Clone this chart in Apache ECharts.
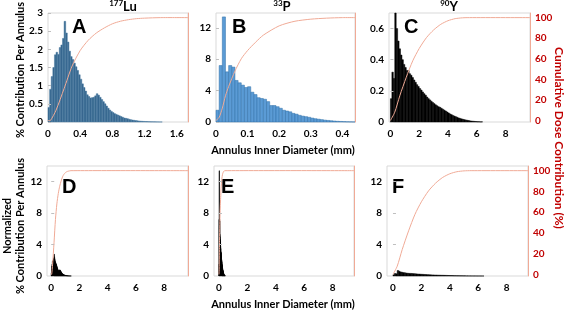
<!DOCTYPE html>
<html>
<head>
<meta charset="utf-8">
<script src="https://cdn.jsdelivr.net/npm/echarts@6/dist/echarts.min.js"></script>
<style>
  html, body { margin: 0; padding: 0; background: #fff; }
  #chart { width: 567px; height: 311px; }
</style>
</head>
<body>
<div id="chart"></div>
<script>
// 177Lu: % contribution per annulus, bins of 0.02 mm starting at 0
const luBin = 0.02
const luValues = [0.40, 0.90, 1.25, 1.50, 1.85, 1.92, 1.86, 2.05, 2.12, 2.30,
  2.77, 2.45, 2.20, 1.95, 1.80, 1.72, 1.62, 1.52, 1.42, 1.30,
  1.18, 1.05, 0.95, 0.85, 0.75, 0.70, 0.66, 0.67, 0.68, 0.72,
  0.78, 0.74, 0.68, 0.62, 0.56, 0.50, 0.44, 0.38, 0.33, 0.29,
  0.26, 0.23, 0.21, 0.19, 0.17, 0.15, 0.13, 0.11, 0.10, 0.09,
  0.075, 0.065, 0.055, 0.047, 0.040, 0.034, 0.028, 0.023, 0.019, 0.016,
  0.013, 0.011, 0.009, 0.007, 0.006, 0.005, 0.004, 0.003, 0.002, 0.002, 0.001]

// 33P: bins of 0.01 mm
const pBin = 0.01
const pValues = [1.5, 7.2, 13.4, 6.4, 7.2, 7.0, 5.3, 5.0, 4.7, 4.4,
  4.5, 3.8, 3.5, 3.1, 3.0, 2.9, 2.6, 2.1, 2.1, 1.95,
  1.75, 1.5, 1.4, 1.3, 1.1, 1.0, 0.85, 0.75, 0.68, 0.6,
  0.5, 0.42, 0.36, 0.3, 0.24, 0.2, 0.16, 0.12, 0.09, 0.07,
  0.05, 0.03, 0.02, 0.01]

// 90Y: bins of 0.1 mm
const yBin = 0.1
const yValues = [0.15, 0.32, 0.28, 0.70, 0.60, 0.52, 0.47, 0.43, 0.40, 0.37,
  0.35, 0.33, 0.33, 0.31, 0.30, 0.285, 0.27, 0.255, 0.24, 0.228,
  0.215, 0.205, 0.193, 0.182, 0.172, 0.16, 0.15, 0.142, 0.133, 0.125,
  0.118, 0.11, 0.104, 0.098, 0.094, 0.088, 0.082, 0.076, 0.07, 0.064,
  0.058, 0.052, 0.047, 0.042, 0.038, 0.034, 0.03, 0.026, 0.023, 0.02,
  0.017, 0.015, 0.013, 0.011, 0.009, 0.007, 0.006, 0.005, 0.004, 0.003,
  0.002, 0.002, 0.001, 0.001]

// cumulative dose contribution (%)
const luCumX = [0, 0.03, 0.1, 0.2, 0.3, 0.4, 0.5, 0.6, 0.7, 0.8, 0.9, 1.0, 1.1, 1.2, 1.4, 10]
const luCumY = [0, 0, 10, 31, 53, 68, 78, 85, 90, 94, 96.5, 98, 99, 99.5, 100, 100]
const pCumX = [0, 0.01, 0.02, 0.03, 0.04, 0.06, 0.08, 0.1, 0.125, 0.15, 0.2, 0.25, 0.3, 0.35, 0.4, 10]
const pCumY = [0, 3, 12, 24, 33, 48, 60, 68, 76, 83, 92, 96.5, 98.5, 99.5, 100, 100]
const yCumX = [0, 0.3, 0.65, 1.1, 1.55, 2.0, 2.5, 3.0, 3.5, 4.0, 4.5, 5.0, 5.5, 10]
const yCumY = [0, 8, 24, 42, 58, 70, 80.5, 88, 93.5, 97, 99, 99.8, 100, 100]

// tick labels
const luTicks = [0, 0.4, 0.8, 1.2, 1.6]
const pTicks = [0, 0.1, 0.2, 0.3, 0.4]
const mmTicks = [0, 2, 4, 6, 8]
const luYTicks = [0, 0.5, 1, 1.5, 2, 2.5, 3]
const pYTicks = [0, 4, 8, 12]
const yYTicks = [0, 0.2, 0.4, 0.6]
const normYTicks = [0, 4, 8, 12]
const cumTicks = [0, 20, 40, 60, 80, 100]

const FONT = 'Lato'
const curveColor = '#f0aa96'
const darkRed = '#c00000'

function bins(values, w) {
    return values.map((v, i) => [i * w, (i + 1) * w, v])
}
function pairs(xs, ys) {
    return xs.map((x, i) => [x, ys[i]])
}

function gridBox(left, top, width, height) {
    return {left, top, width, height, show: true, borderColor: '#d9d9d9', borderWidth: 1,
        backgroundColor: 'transparent', outerBoundsMode: 'none'}
}
function xAxis(gi, min, max, ticks) {
    return {
        type: 'value', gridIndex: gi, min, max, zlevel: 1,
        axisLine: {show: false}, axisTick: {show: false}, splitLine: {show: false},
        axisLabel: {customValues: ticks, formatter: v => '' + v, fontFamily: FONT, hideOverlap: false,
            fontWeight: 'bold', fontSize: 10, color: '#000', margin: 7}
    }
}
function leftAxis(gi, max, ticks) {
    return {
        type: 'value', gridIndex: gi, position: 'left', min: 0, max, zlevel: 1,
        axisLine: {show: false}, splitLine: {show: false},
        axisTick: {show: true, inside: true, length: 3, customValues: ticks, lineStyle: {color: '#bfbfbf'}},
        axisLabel: {customValues: ticks, formatter: v => '' + v, fontFamily: FONT, hideOverlap: false,
            fontWeight: 'bold', fontSize: 10, color: '#000', margin: 5}
    }
}
function rightAxis(gi, showLabel) {
    return {
        type: 'value', gridIndex: gi, position: 'right', min: -1.5, max: 104.5, zlevel: 1,
        axisLine: {show: true, lineStyle: {color: curveColor, width: 1}},
        axisTick: {show: false}, splitLine: {show: false},
        axisLabel: {show: showLabel, customValues: cumTicks, fontFamily: FONT, hideOverlap: false,
            fontWeight: 'bold', fontSize: 10, color: darkRed, margin: 5}
    }
}

// one rect per bin, all bins lie inside the axis ranges
function rectRenderer(fill, stroke, lw) {
    return function (params, api) {
        const p0 = api.coord([api.value(0), api.value(2)])
        const p1 = api.coord([api.value(1), 0])
        return {
            type: 'rect',
            shape: {x: p0[0], y: p0[1], width: p1[0] - p0[0], height: p1[1] - p0[1]},
            style: {fill, stroke, lineWidth: lw}
        }
    }
}
function histBars(gi, data, fill, stroke, lw) {
    return {type: 'custom', xAxisIndex: gi, yAxisIndex: gi * 2, clip: false,
        renderItem: rectRenderer(fill, stroke, lw), data}
}

// whole cumulative curve drawn once; the flat 100% tail is stopped at the plot's right edge
function curveRenderer(points) {
    return function (params, api) {
        if (params.dataIndex !== 0) return null
        const cs = params.coordSys
        const right = cs.x + cs.width
        const pts = points.map(p => {
            const c = api.coord(p)
            return [Math.min(c[0], right), c[1]]
        })
        return {
            type: 'polyline',
            shape: {points: pts, smooth: 0.25,
                smoothConstraint: [[cs.x, cs.y], [cs.x + cs.width, cs.y + cs.height]]},
            style: {stroke: curveColor, lineWidth: 1, fill: null}
        }
    }
}
function cumLine(gi, points) {
    return {type: 'custom', xAxisIndex: gi, yAxisIndex: gi * 2 + 1, clip: false, z: 5,
        renderItem: curveRenderer(points), data: points}
}

function panelLetter(text, x, y) {
    return {type: 'text', x, y, style: {text, font: 'bold 20px "Liberation Sans"', fill: '#000'}}
}
function isotope(sup, main, x, y) {
    return {
        type: 'text', x, y,
        style: {
            text: '{s|' + sup + '}{m|' + main + '}', align: 'center', verticalAlign: 'middle',
            rich: {
                s: {fontFamily: FONT, fontWeight: 'bold', fontSize: 8, lineHeight: 15, verticalAlign: 'top', padding: [0, 0, 6, 0]},
                m: {fontFamily: FONT, fontWeight: 'bold', fontSize: 13, lineHeight: 15}
            }
        }
    }
}
function label(text, x, y, rotation, size, color) {
    return {type: 'text', x, y, rotation,
        style: {text, font: 'bold ' + size + 'px ' + FONT, fill: color || '#000',
            align: 'center', verticalAlign: 'middle', lineHeight: 13}}
}

const chart = echarts.init(document.getElementById('chart'))
chart.setOption({
    animation: false,
    grid: [
        gridBox(48, 13, 140, 109),
        gridBox(216, 13, 139, 109),
        gridBox(389, 13, 141, 109),
        gridBox(47, 166, 141, 110),
        gridBox(214, 166, 140, 110),
        gridBox(387, 166, 141, 110)
    ],
    xAxis: [
        xAxis(0, 0, 1.74, luTicks),
        xAxis(1, 0, 0.44, pTicks),
        xAxis(2, -0.1, 9.7, mmTicks),
        xAxis(3, -0.3, 9.7, mmTicks),
        xAxis(4, -0.35, 9.5, mmTicks),
        xAxis(5, -0.42, 9.5, mmTicks)
    ],
    yAxis: [
        leftAxis(0, 3, luYTicks), rightAxis(0, false),
        leftAxis(1, 13.9, pYTicks), rightAxis(1, false),
        leftAxis(2, 0.7, yYTicks), rightAxis(2, true),
        leftAxis(3, 14, normYTicks), rightAxis(3, false),
        leftAxis(4, 14, normYTicks), rightAxis(4, false),
        leftAxis(5, 14, normYTicks), rightAxis(5, true)
    ],
    series: [
        histBars(0, bins(luValues, luBin), '#33648c', '#4c7da3', 0.5),
        cumLine(0, pairs(luCumX, luCumY)),
        histBars(1, bins(pValues, pBin), '#5b9bd5', '#2f6ea6', 0.5),
        cumLine(1, pairs(pCumX, pCumY)),
        histBars(2, bins(yValues, yBin), '#000', '#000', 0.5),
        cumLine(2, pairs(yCumX, yCumY)),
        histBars(3, bins(luValues, luBin), '#000', '#000', 0.7),
        cumLine(3, pairs(luCumX, luCumY)),
        histBars(4, bins(pValues, pBin), '#000', '#000', 0.7),
        cumLine(4, pairs(pCumX, pCumY)),
        histBars(5, bins(yValues, yBin), '#000', '#000', 0.5),
        cumLine(5, pairs(yCumX, yCumY))
    ],
    graphic: [
        isotope('177', 'Lu', 123, 7),
        isotope('33', 'P', 282, 7),
        isotope('90', 'Y', 449, 7),
        panelLetter('A', 72, 17),
        panelLetter('B', 232, 17),
        panelLetter('C', 404, 17),
        panelLetter('D', 62, 177),
        panelLetter('E', 221, 177),
        panelLetter('F', 392, 177),
        label('% Contribution Per Annulus', 20, 70, Math.PI / 2, 11),
        label('Normalized\n% Contribution Per Annulus', 14, 226, Math.PI / 2, 11),
        label('Annulus Inner Diameter (mm)', 283, 150, 0, 11),
        label('Annulus Inner Diameter (mm)', 283, 304, 0, 11),
        label('Cumulative Dose Contribution (%)', 559, 138, -Math.PI / 2, 12, darkRed)
    ]
})
</script>
</body>
</html>
